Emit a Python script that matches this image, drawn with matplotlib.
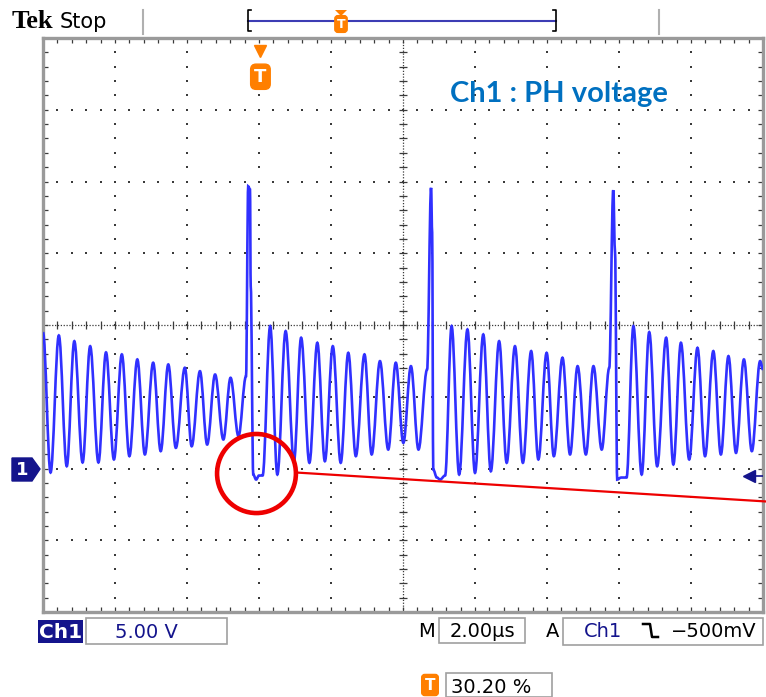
import numpy as np
import matplotlib
matplotlib.use('Agg')
import matplotlib.pyplot as plt
from matplotlib.path import Path
from matplotlib.patches import PathPatch, Ellipse, Rectangle, Polygon
from matplotlib.lines import Line2D

plt.rcParams['font.family'] = 'DejaVu Sans'

# scope settings
t_span_us = 20.0            # 10 div x 2.00 us
v_min, v_max = -10.0, 30.0  # 8 div x 5.00 V, ground marker 2 div below centre
trig_level_v = -0.5         # -500 mV
trig_pos_us = 6.04          # 30.20 % of record

# Ch1 trace: turning points (us, V)
trace_t = [0.00, 0.21, 0.44, 0.66, 0.87, 1.10, 1.31, 1.54, 1.75, 1.97,
           2.19, 2.40, 2.62, 2.83, 3.06, 3.27, 3.48, 3.69, 3.94, 4.13,
           4.36, 4.56, 4.78, 5.01, 5.21, 5.43, 5.64,
           5.70, 5.75, 5.77, 5.84, 5.92, 6.00, 6.10,
           6.31, 6.51, 6.74, 6.97, 7.17, 7.40, 7.62, 7.83, 8.05, 8.27,
           8.48, 8.69, 8.93, 9.13, 9.36, 9.59, 9.80, 10.01, 10.22, 10.43, 10.67,
           10.78, 10.81, 10.84, 10.94, 11.03, 11.17,
           11.35, 11.56, 11.79, 12.00, 12.23, 12.44, 12.67, 12.88, 13.11, 13.33,
           13.56, 13.76, 13.99, 14.19, 14.43, 14.64, 14.85, 15.08, 15.29, 15.52, 15.73,
           15.84, 15.89, 15.95, 16.06, 16.21,
           16.40, 16.63, 16.84, 17.06, 17.31, 17.51, 17.72, 17.95, 18.18, 18.39,
           18.62, 18.83, 19.04, 19.25, 19.47, 19.69, 19.92, 20.00]
trace_v = [9.48, -0.28, 9.27, 0.16, 8.87, 0.42, 8.52, 0.42, 8.09, 0.63,
           7.95, 0.86, 7.60, 0.98, 7.37, 1.21, 7.25, 1.44, 7.02, 1.55,
           6.78, 1.67, 6.55, 2.02, 6.32, 2.25, 6.43,
           19.66, 19.45, 12.70, -0.42, -0.77, -0.49, -0.49,
           9.92, -0.42, 9.57, 0.49, 9.11, 0.40, 8.76, 0.51, 8.52, 0.40,
           8.06, 0.86, 7.95, 0.98, 7.48, 1.32, 7.37, 1.79, 7.13, 1.32, 6.90,
           19.56, 16.45, -0.07, -0.63, -0.77, -0.49,
           9.92, -0.42, 9.69, -0.30, 9.34, -0.19, 8.87, 0.40, 8.52, 0.40,
           8.18, 0.63, 8.06, 0.86, 7.72, 0.98, 7.13, 0.98, 7.13, 1.32, 7.02,
           19.40, 15.06, -0.77, -0.63, -0.63,
           9.92, -0.42, 9.50, 0.16, 9.11, 0.28, 8.76, 0.63, 8.41, 0.86,
           8.18, 0.98, 7.83, 1.09, 7.60, 1.21, 7.48, 6.90]

# red annotation (circle around the negative dip + pointer line)
circle_t, circle_v = 5.93, -0.35
circle_w_us, circle_h_v = 2.19, 5.51
redline_t = [7.03, 20.10]
redline_v = [-0.28, -2.30]

W, H = 766, 697
NAVY = '#14148c'
ORANGE = '#ff7f00'
GRID = '#3a3a3a'
TRACE = '#3030ff'


def X(px):
    return px / W


def Y(py):
    return 1 - py / H


def smooth_path(ts, vs, k=0.36):
    # turning points joined by curves with flat tangents at each extreme
    verts = [(ts[0], vs[0])]
    codes = [Path.MOVETO]
    for i in range(1, len(ts)):
        t0, v0, t1, v1 = ts[i - 1], vs[i - 1], ts[i], vs[i]
        dt = t1 - t0
        verts += [(t0 + k * dt, v0), (t1 - k * dt, v1), (t1, v1)]
        codes += [Path.CURVE4] * 3
    return Path(verts, codes)


fig = plt.figure(figsize=(W / 100, H / 100), dpi=100)
ax = fig.add_axes([X(43), Y(612), 720 / W, 574 / H])
ax.set_xlim(0, t_span_us)
ax.set_ylim(v_min, v_max)

# graticule
yy = np.arange(v_min, v_max + 0.01, 1.0)
xx = np.arange(0, t_span_us + 0.01, 0.4)
for xg in np.arange(2, 20, 2):
    if xg == 10:
        continue
    ax.plot(np.full_like(yy, xg), yy, ls='none', marker='s', ms=1.6, mew=0, color=GRID)
for yg in np.arange(-5, 30, 5):
    if yg == 10:
        continue
    ax.plot(xx, np.full_like(xx, yg), ls='none', marker='s', ms=1.6, mew=0, color=GRID)
ax.axvline(10, ls=(0, (1, 1.3)), lw=0.9, color=GRID)
ax.axhline(10, ls=(0, (1, 1.3)), lw=0.9, color=GRID)
ax.plot(np.full_like(yy, 10), yy, ls='none', marker='_', ms=6, mew=0.9, color=GRID)
ax.plot(xx, np.full_like(xx, 10), ls='none', marker='|', ms=6, mew=0.9, color=GRID)

ax.set_xticks(xx)
ax.set_yticks(yy)
ax.tick_params(direction='in', length=3.5, width=0.9, colors=GRID,
               top=True, right=True, labelbottom=False, labelleft=False)
for s in ax.spines.values():
    s.set_color('#9a9a9a')
    s.set_linewidth(2.4)

# trace
ax.add_patch(PathPatch(smooth_path(trace_t, trace_v), fill=False,
                       edgecolor=TRACE, lw=1.9, zorder=3))

# trigger level marker on right edge
ax.plot([19.62], [trig_level_v], marker='<', ms=8, color=NAVY, zorder=4, clip_on=False)
ax.plot([19.62, t_span_us], [trig_level_v, trig_level_v], color=NAVY, lw=1.2, zorder=4)

# trigger position marker under top edge
ax.plot([trig_pos_us], [29.1], marker='v', ms=9, color=ORANGE, zorder=4, clip_on=False)
ax.text(trig_pos_us, 27.3, 'T', ha='center', va='center', color='white', fontsize=13,
        fontweight='bold', zorder=5,
        bbox=dict(boxstyle='round,pad=0.2,rounding_size=0.3', fc=ORANGE, ec=ORANGE))

# red annotation
ax.add_patch(Ellipse((circle_t, circle_v), circle_w_us, circle_h_v, fill=False,
                     ec='#ee0000', lw=3.3, zorder=6, clip_on=False))
ax.plot(redline_t, redline_v, color='#ee0000', lw=1.6, zorder=6, clip_on=False)

fig.text(X(450), Y(102), 'Ch1 : PH voltage', color='#0070c0', fontsize=21,
         fontweight='bold', family='Lato', ha='left', va='baseline')

# top bar
fig.text(X(12), Y(28), 'Tek', family='Liberation Serif', fontweight='bold',
         fontsize=19, ha='left', va='baseline')
fig.text(X(60), Y(28), 'Stop', fontsize=15, ha='left', va='baseline')
for xs in (143, 659):
    fig.add_artist(Line2D([X(xs), X(xs)], [Y(10), Y(34)], color='#b0b0b0', lw=1.5))
fig.add_artist(Line2D([X(248), X(556)], [Y(21), Y(21)], color='#3c3cb4', lw=1.5))
fig.add_artist(Line2D([X(251), X(248), X(248), X(251)], [Y(10), Y(10), Y(31), Y(31)],
                      color='black', lw=1.2))
fig.add_artist(Line2D([X(553), X(556), X(556), X(553)], [Y(10), Y(10), Y(31), Y(31)],
                      color='black', lw=1.2))
fig.add_artist(Polygon([[X(335), Y(10)], [X(347), Y(10)], [X(341), Y(16)]],
                       closed=True, fc=ORANGE, ec='none'))
fig.text(X(341), Y(24), 'T', ha='center', va='center', color='white', fontsize=9,
         fontweight='bold',
         bbox=dict(boxstyle='round,pad=0.15,rounding_size=0.25', fc=ORANGE, ec=ORANGE))

# ground marker "1"
fig.add_artist(Polygon([[X(12), Y(458)], [X(32), Y(458)], [X(40), Y(469)],
                        [X(32), Y(481)], [X(12), Y(481)]], closed=True, fc=NAVY, ec=NAVY))
fig.text(X(22), Y(470), '1', color='white', fontsize=13, fontweight='bold',
         ha='center', va='center')

# bottom status line
fig.add_artist(Rectangle((X(38), Y(643)), 45 / W, 23 / H, fc=NAVY, ec='none'))
fig.text(X(60.5), Y(638), 'Ch1', color='white', fontsize=14.5, fontweight='bold',
         ha='center', va='baseline')
fig.add_artist(Rectangle((X(86), Y(644)), 141 / W, 26 / H, fc='none', ec='#a0a0a0', lw=1.2))
fig.text(X(146), Y(638), '5.00 V', color=NAVY, fontsize=14, ha='center', va='baseline')

fig.text(X(426), Y(637), 'M', fontsize=14, ha='center', va='baseline')
fig.add_artist(Rectangle((X(439), Y(643)), 86 / W, 25 / H, fc='none', ec='#a0a0a0', lw=1.2))
fig.text(X(482), Y(637), '2.00µs', fontsize=14, ha='center', va='baseline')
fig.text(X(553), Y(637), 'A', fontsize=14, ha='center', va='baseline')
fig.add_artist(Rectangle((X(563), Y(645)), 200 / W, 27 / H, fc='none', ec='#a0a0a0', lw=1.2))
fig.text(X(603), Y(637), 'Ch1', color=NAVY, fontsize=14, ha='center', va='baseline')
fig.add_artist(Line2D([X(643), X(650), X(652), X(658)], [Y(624), Y(624), Y(637), Y(637)],
                      color='black', lw=1.8))
fig.text(X(714), Y(637), '\u2212500mV', fontsize=14, ha='center', va='baseline')

fig.text(X(430), Y(685), 'T', ha='center', va='center', color='white', fontsize=11,
         fontweight='bold',
         bbox=dict(boxstyle='round,pad=0.2,rounding_size=0.2', fc=ORANGE, ec=ORANGE))
fig.add_artist(Rectangle((X(446), Y(697)), 106 / W, 24 / H, fc='none', ec='#a0a0a0', lw=1.2))
fig.text(X(491), Y(693), '30.20 %', fontsize=14, ha='center', va='baseline')

fig.savefig('out.png', dpi=100)
